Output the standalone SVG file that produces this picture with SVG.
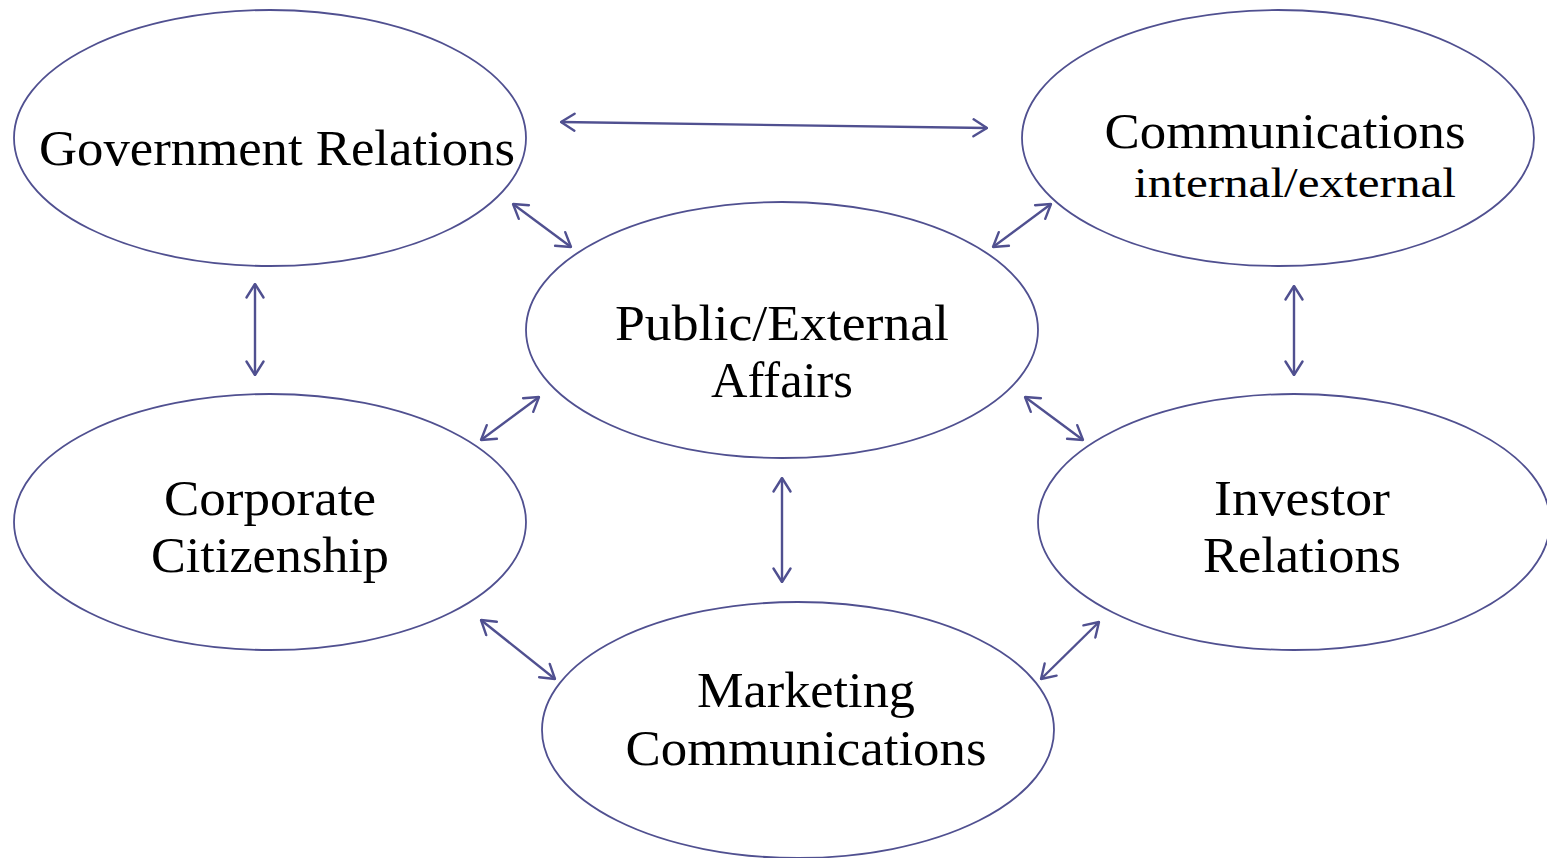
<svg xmlns="http://www.w3.org/2000/svg" width="1547" height="858" viewBox="0 0 1547 858">
  <style>
    .node ellipse { fill: #ffffff; stroke: #505090; stroke-width: 1.8; }
    .label { font-family: "Liberation Serif", "Times New Roman", serif; font-size: 50px; fill: #000000; text-anchor: middle; }
    .sub { font-size: 42px; }
    #connectors line { stroke: #505090; stroke-width: 2.4; fill: none; marker-start: url(#chev); marker-end: url(#chev); }
  </style>
  <defs>
    <marker id="chev" viewBox="0 0 16 20" refX="15" refY="10" markerWidth="16" markerHeight="20" markerUnits="userSpaceOnUse" orient="auto-start-reverse">
      <path d="M1.5,1.5 L15,10 L1.5,18.5" fill="none" stroke="#505090" stroke-width="2.4" stroke-linecap="round" stroke-linejoin="round"/>
    </marker>
  </defs>

  <rect width="1547" height="858" fill="#ffffff"/>

  <g id="gov-relations" class="node">
    <ellipse cx="270" cy="138" rx="256" ry="128"/>
    <text class="label" x="277" y="165" textLength="476" lengthAdjust="spacingAndGlyphs">Government Relations</text>
  </g>

  <g id="communications" class="node">
    <ellipse cx="1278" cy="138" rx="256" ry="128"/>
    <text class="label" x="1285" y="148" textLength="361" lengthAdjust="spacingAndGlyphs">Communications</text>
    <text class="label sub" x="1295" y="197" textLength="322" lengthAdjust="spacingAndGlyphs">internal/external</text>
  </g>

  <g id="public-external" class="node">
    <ellipse cx="782" cy="330" rx="256" ry="128"/>
    <text class="label" x="782" y="340" textLength="334" lengthAdjust="spacingAndGlyphs">Public/External</text>
    <text class="label" x="782" y="397" textLength="142" lengthAdjust="spacingAndGlyphs">Affairs</text>
  </g>

  <g id="corporate-citizenship" class="node">
    <ellipse cx="270" cy="522" rx="256" ry="128"/>
    <text class="label" x="270" y="515" textLength="212" lengthAdjust="spacingAndGlyphs">Corporate</text>
    <text class="label" x="270" y="572" textLength="238" lengthAdjust="spacingAndGlyphs">Citizenship</text>
  </g>

  <g id="investor-relations" class="node">
    <ellipse cx="1294" cy="522" rx="256" ry="128"/>
    <text class="label" x="1302" y="515" textLength="176" lengthAdjust="spacingAndGlyphs">Investor</text>
    <text class="label" x="1302" y="572" textLength="198" lengthAdjust="spacingAndGlyphs">Relations</text>
  </g>

  <g id="marketing-communications" class="node">
    <ellipse cx="798" cy="730" rx="256" ry="128"/>
    <text class="label" x="806" y="707" textLength="218" lengthAdjust="spacingAndGlyphs">Marketing</text>
    <text class="label" x="806" y="765" textLength="361" lengthAdjust="spacingAndGlyphs">Communications</text>
  </g>

  <g id="connectors">
    <line x1="561" y1="122" x2="987" y2="128"/>
    <line x1="513" y1="204" x2="571" y2="247"/>
    <line x1="1051" y1="204" x2="993" y2="247"/>
    <line x1="255" y1="284" x2="255" y2="375"/>
    <line x1="1294" y1="286" x2="1294" y2="375"/>
    <line x1="539" y1="397" x2="481" y2="440"/>
    <line x1="1025" y1="397" x2="1083" y2="440"/>
    <line x1="782" y1="478" x2="782" y2="582"/>
    <line x1="481" y1="620" x2="555" y2="679"/>
    <line x1="1099" y1="622" x2="1041" y2="679"/>
  </g>
</svg>
